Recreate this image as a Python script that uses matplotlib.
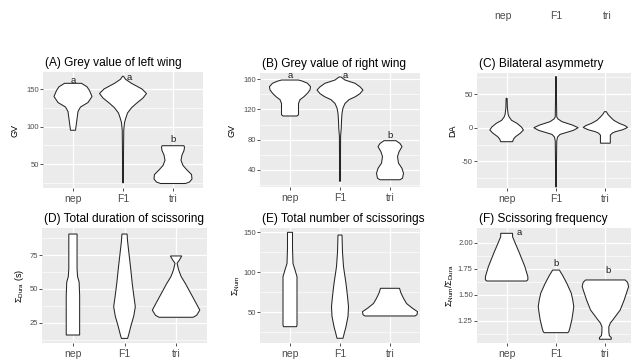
import matplotlib
matplotlib.use("Agg")
import matplotlib.pyplot as plt
from matplotlib.ticker import FixedLocator

plt.rcParams['font.family'] = ['Liberation Sans', 'DejaVu Sans']
plt.rcParams['mathtext.fontset'] = 'custom'
plt.rcParams['mathtext.rm'] = 'Liberation Sans'
plt.rcParams['mathtext.it'] = 'Liberation Sans:italic'

categories = ["nep", "F1", "tri"]

# Violin outlines: value levels and half-widths (category units)
A_vals = {
    "nep": [95, 100, 110, 120, 126, 132, 140, 148, 153, 157.6],
    "F1": [25, 60, 95, 105, 110, 118, 125, 131, 138, 144, 150, 157.6, 163, 167],
    "tri": [24, 26, 30, 36, 42, 48, 55, 62, 68, 72, 74.4],
}
A_hw = {
    "nep": [0.05, 0.06, 0.08, 0.10, 0.15, 0.30, 0.38, 0.33, 0.28, 0.17],
    "F1": [0.01, 0.01, 0.015, 0.03, 0.05, 0.09, 0.17, 0.27, 0.40, 0.47, 0.38, 0.17, 0.05, 0.01],
    "tri": [0.25, 0.33, 0.38, 0.37, 0.28, 0.20, 0.16, 0.18, 0.22, 0.23, 0.22],
}
B_vals = {
    "nep": [111.4, 113, 120, 128, 133, 137, 141.5, 146, 150.3, 154.7, 157.5, 159],
    "F1": [25, 60, 85, 95, 105, 115, 122, 128, 133, 137, 141, 145.8, 150, 154.7, 159, 163],
    "tri": [27, 29, 35.5, 42, 49, 57.5, 64, 70.8, 75, 78.7],
}
B_hw = {
    "nep": [0.14, 0.17, 0.17, 0.17, 0.20, 0.28, 0.35, 0.40, 0.41, 0.35, 0.25, 0.17],
    "F1": [0.01, 0.01, 0.012, 0.025, 0.03, 0.04, 0.06, 0.10, 0.18, 0.31, 0.40, 0.46, 0.40, 0.30, 0.10, 0.02],
    "tri": [0.20, 0.25, 0.27, 0.24, 0.17, 0.15, 0.18, 0.24, 0.20, 0.12],
}
C_vals = {
    "nep": [-20.8, -17, -13.4, -8, -3.4, 1, 6.5, 11, 16, 20, 30, 43.7],
    "F1": [-88, -50, -20, -14, -10, -8.4, -4, 0, 4, 9, 13, 16, 40, 76],
    "tri": [-23, -15, -11, -8, -6, -3, 0.3, 3, 6.5, 11, 16, 20, 23.8],
}
C_hw = {
    "nep": [0.12, 0.14, 0.18, 0.28, 0.34, 0.30, 0.21, 0.10, 0.05, 0.03, 0.015, 0.01],
    "F1": [0.008, 0.01, 0.015, 0.03, 0.08, 0.15, 0.35, 0.45, 0.33, 0.12, 0.04, 0.015, 0.01, 0.006],
    "tri": [0.10, 0.10, 0.10, 0.14, 0.20, 0.35, 0.45, 0.40, 0.28, 0.17, 0.10, 0.05, 0.02],
}
D_vals = {
    "nep": [15.9, 18, 30, 45, 55, 59, 65, 80, 90.5],
    "F1": [13.4, 16, 22, 30, 36.8, 45, 54, 65, 75, 85, 90.5],
    "tri": [29, 30.5, 34.3, 40, 47, 54, 59, 64, 68.9, 71, 74.3],
}
D_hw = {
    "nep": [0.13, 0.13, 0.13, 0.13, 0.12, 0.09, 0.08, 0.08, 0.08],
    "F1": [0.06, 0.08, 0.12, 0.18, 0.21, 0.18, 0.15, 0.12, 0.09, 0.06, 0.05],
    "tri": [0.33, 0.40, 0.46, 0.38, 0.28, 0.18, 0.10, 0.05, 0.02, 0.06, 0.11],
}
E_vals = {
    "nep": [32, 34, 50, 70, 94.5, 103, 111, 130, 150],
    "F1": [17.5, 20, 25, 32, 45, 57, 70, 86, 107, 125, 146.6],
    "tri": [45.4, 47, 50.8, 55, 61, 67.5, 74, 78, 80],
}
E_hw = {
    "nep": [0.13, 0.14, 0.14, 0.14, 0.14, 0.10, 0.06, 0.05, 0.05],
    "F1": [0.06, 0.07, 0.09, 0.12, 0.16, 0.17, 0.15, 0.12, 0.07, 0.05, 0.04],
    "tri": [0.50, 0.54, 0.55, 0.45, 0.33, 0.27, 0.22, 0.20, 0.19],
}
F_vals = {
    "nep": [1.633, 1.645, 1.674, 1.77, 1.9, 2.0, 2.058, 2.09],
    "F1": [1.138, 1.15, 1.18, 1.26, 1.32, 1.387, 1.45, 1.515, 1.61, 1.69, 1.72, 1.738],
    "tri": [1.075, 1.09, 1.11, 1.147, 1.195, 1.23, 1.26, 1.355, 1.45, 1.579, 1.62, 1.643],
}
F_hw = {
    "nep": [0.40, 0.43, 0.43, 0.37, 0.26, 0.17, 0.12, 0.12],
    "F1": [0.24, 0.26, 0.28, 0.32, 0.34, 0.36, 0.34, 0.31, 0.22, 0.13, 0.09, 0.07],
    "tri": [0.12, 0.12, 0.08, 0.07, 0.07, 0.10, 0.15, 0.30, 0.38, 0.47, 0.45, 0.40],
}

# Significance letters: (x position, value, letter)
A_letters = [(1.0, 162, "a"), (2.12, 165, "a"), (3.0, 83, "b")]
B_letters = [(1.0, 164.5, "a"), (2.1, 164.5, "a"), (3.0, 85, "b")]
F_letters = [(1.25, 2.10, "a"), (2.0, 1.80, "b"), (3.05, 1.73, "b")]

W, H = 631, 363
fig = plt.figure(figsize=(W / 100, H / 100), dpi=100)


def add_ax(l, t, r, b):
    return fig.add_axes([l / W, 1 - b / H, (r - l) / W, (b - t) / H])


panels = [
    dict(rect=(43, 72, 203, 188), vals=A_vals, hw=A_hw, ylim=(18, 172.7),
         major=[50, 100, 150], minor=[25, 75, 125], tl=["50", "100", "150"],
         title="(A) Grey value of left wing", ylabel="GV", ylx=15, letters=A_letters),
    dict(rect=(260, 73, 420, 187), vals=B_vals, hw=B_hw, ylim=(17.4, 168.3),
         major=[40, 80, 120, 160], minor=[20, 60, 100, 140], tl=["40", "80", "120", "160"],
         title="(B) Grey value of right wing", ylabel="GV", ylx=232, letters=B_letters),
    dict(rect=(477, 73, 635, 188), vals=C_vals, hw=C_hw, ylim=(-89.6, 81.3),
         major=[-50, 0, 50], minor=[-75, -25, 25, 75], tl=["-50", "0", "50"],
         title="(C) Bilateral asymmetry", ylabel="DA", ylx=453, letters=[]),
    dict(rect=(42, 228, 207, 343), vals=D_vals, hw=D_hw, ylim=(10.0, 94.96),
         major=[25, 50, 75], minor=[12.5, 37.5, 62.5, 87.5], tl=["25", "50", "75"],
         title="(D) Total duration of scissoring", ylabel=r"$\Sigma_{\mathrm{Dura}}$ (s)", ylx=19, letters=[]),
    dict(rect=(260, 228, 420, 343), vals=E_vals, hw=E_hw, ylim=(11.6, 155.4),
         major=[50, 100, 150], minor=[25, 75, 125], tl=["50", "100", "150"],
         title="(E) Total number of scissorings", ylabel=r"$\Sigma_{\mathrm{Num}}$", ylx=236, letters=[]),
    dict(rect=(477, 228, 635, 343), vals=F_vals, hw=F_hw, ylim=(1.039, 2.141),
         major=[1.25, 1.5, 1.75, 2.0], minor=[1.125, 1.375, 1.625, 1.875], tl=["1.25", "1.50", "1.75", "2.00"],
         title="(F) Scissoring frequency", ylabel=r"$\Sigma_{\mathrm{Num}}/\Sigma_{\mathrm{Dura}}$", ylx=450,
         letters=F_letters),
]

for p in panels:
    ax = add_ax(*p["rect"])
    ax.set_facecolor("#EBEBEB")
    for s in ax.spines.values():
        s.set_visible(False)
    ax.set_xlim(0.4, 3.6)
    ax.set_ylim(*p["ylim"])
    ax.yaxis.set_major_locator(FixedLocator(p["major"]))
    ax.yaxis.set_minor_locator(FixedLocator(p["minor"]))
    ax.set_yticklabels(p["tl"])
    ax.set_xticks([1, 2, 3])
    ax.set_xticklabels(categories)
    ax.grid(which="major", color="white", linewidth=0.9)
    ax.grid(which="minor", axis="y", color="white", linewidth=0.45)
    ax.set_axisbelow(True)
    ax.tick_params(axis="y", which="major", length=2, width=0.6, color="#333333",
                   labelsize=5.5, labelcolor="#4D4D4D", pad=1)
    ax.tick_params(axis="x", which="major", length=2, width=0.6, color="#333333",
                   labelsize=7.5, labelcolor="#4D4D4D", pad=2)
    ax.tick_params(which="minor", length=0)
    for i, cat in enumerate(categories):
        pos = i + 1
        v = p["vals"][cat]
        w = p["hw"][cat]
        xs = [pos + hw for hw in w] + [pos - hw for hw in w[::-1]]
        ys = list(v) + list(v[::-1])
        ax.fill(xs, ys, facecolor="white", edgecolor="#262626", linewidth=0.75, zorder=3)
    for (xx, yy, lab) in p["letters"]:
        ax.text(xx, yy, lab, ha="center", va="center", fontsize=6.8, color="#1a1a1a", zorder=4)
    l, t, r, b = p["rect"]
    fig.text((l + 2) / W, 1 - (t - 6) / H, p["title"], ha="left", va="baseline", fontsize=8.6)
    fig.text(p["ylx"] / W, 1 - ((t + b) / 2) / H, p["ylabel"], rotation=90, ha="center",
             va="center", fontsize=6.5)

# Cropped x-axis labels of a panel above (visible at top of the picture)
for cat, xp in zip(categories, [503, 556, 607]):
    fig.text(xp / W, 1 - 16 / H, cat, ha="center", va="center", fontsize=7.5, color="#4D4D4D")

fig.savefig("out.png", dpi=100)
